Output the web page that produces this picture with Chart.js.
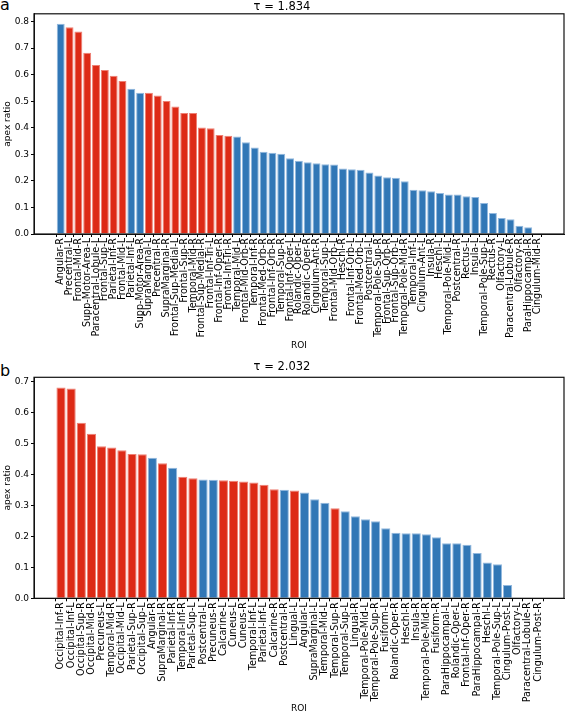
<!DOCTYPE html>
<html>
<head>
<meta charset="utf-8">
<script src="https://cdn.jsdelivr.net/npm/chart.js@4"></script>
<style>
  body { margin: 0; background: #fff; width: 567px; height: 714px; position: relative; overflow: hidden; font-family: "DejaVu Sans", sans-serif; }
  .panel { position: absolute; left: 0; width: 567px; height: 357px; }
  .tag { position: absolute; left: 0; font-size: 16px; line-height: 16px; color: #000; }
</style>
</head>
<body>
<div class="tag" style="top:-3px">a</div>
<div class="tag" style="top:363px">b</div>
<div class="panel" style="top:0"><canvas id="chartA"></canvas></div>
<div class="panel" style="top:357px"><canvas id="chartB"></canvas></div>
<script>
// --- panel a : tau = 1.834 ---------------------------------------------
var topLabels = ["Angular-R", "Precentral-L", "Frontal-Mid-R", "Supp-Motor-Area-L", "Paracentral-Lobule-L",
    "Frontal-Sup-L", "Parietal-Inf-R", "Frontal-Mid-L", "Parietal-Inf-L", "Supp-Motor-Area-R",
    "SupraMarginal-L", "Precentral-R", "SupraMarginal-R", "Frontal-Sup-Medial-L", "Frontal-Sup-R",
    "Temporal-Mid-R", "Frontal-Sup-Medial-R", "Frontal-Inf-Tri-L", "Frontal-Inf-Oper-R", "Frontal-Inf-Tri-R",
    "Temporal-Mid-L", "Frontal-Mid-Orb-R", "Temporal-Inf-R", "Frontal-Med-Orb-R", "Frontal-Inf-Orb-R",
    "Temporal-Sup-R", "Frontal-Inf-Oper-L", "Rolandic-Oper-L", "Rolandic-Oper-R", "Cingulum-Ant-R",
    "Temporal-Sup-L", "Frontal-Mid-Orb-L", "Heschl-R", "Frontal-Inf-Orb-L", "Frontal-Med-Orb-L",
    "Postcentral-L", "Temporal-Pole-Sup-R", "Frontal-Sup-Orb-R", "Frontal-Sup-Orb-L", "Temporal-Pole-Mid-R",
    "Temporal-Inf-L", "Cingulum-Ant-L", "Insula-R", "Heschl-L", "Temporal-Pole-Mid-L",
    "Postcentral-R", "Rectus-L", "Insula-L", "Temporal-Pole-Sup-L", "Rectus-R",
    "Olfactory-L", "Paracentral-Lobule-R", "Olfactory-R", "ParaHippocampal-R", "Cingulum-Mid-R"];
var topValues = [0.792, 0.778, 0.762, 0.682, 0.636, 0.617, 0.596, 0.576, 0.547, 0.532,
    0.532, 0.521, 0.501, 0.480, 0.456, 0.456, 0.401, 0.398, 0.373, 0.370,
    0.367, 0.345, 0.326, 0.310, 0.306, 0.302, 0.285, 0.276, 0.270, 0.266,
    0.263, 0.262, 0.247, 0.244, 0.242, 0.232, 0.220, 0.214, 0.212, 0.199,
    0.167, 0.165, 0.161, 0.154, 0.149, 0.149, 0.142, 0.139, 0.117, 0.079,
    0.060, 0.056, 0.031, 0.025, 0.0];
// 1 = red group, 0 = blue group
var topGroup = [0, 1, 1, 1, 1, 1, 1, 1, 0, 0,
    1, 1, 1, 1, 1, 1, 1, 1, 1, 1,
    0, 0, 0, 0, 0, 0, 0, 0, 0, 0,
    0, 0, 0, 0, 0, 0, 0, 0, 0, 0,
    0, 0, 0, 0, 0, 0, 0, 0, 0, 0,
    0, 0, 0, 0, 0];
var topTitle = "\u03c4 = 1.834";
var topTicks = [0.0, 0.1, 0.2, 0.3, 0.4, 0.5, 0.6, 0.7, 0.8];

// --- panel b : tau = 2.032 ---------------------------------------------
var bottomLabels = ["Occipital-Inf-R", "Occipital-Inf-L", "Occipital-Sup-R", "Occipital-Mid-R", "Precuneus-L",
    "Temporal-Mid-R", "Occipital-Mid-L", "Parietal-Sup-R", "Occipital-Sup-L", "Angular-R",
    "SupraMarginal-R", "Parietal-Inf-R", "Temporal-Inf-R", "Parietal-Sup-L", "Postcentral-L",
    "Precuneus-R", "Calcarine-L", "Cuneus-L", "Cuneus-R", "Temporal-Inf-L",
    "Parietal-Inf-L", "Calcarine-R", "Postcentral-R", "Lingual-L", "Angular-L",
    "SupraMarginal-L", "Temporal-Mid-L", "Temporal-Sup-R", "Temporal-Sup-L", "Lingual-R",
    "Temporal-Pole-Mid-L", "Temporal-Pole-Sup-R", "Fusiform-L", "Rolandic-Oper-R", "Heschl-R",
    "Insula-R", "Temporal-Pole-Mid-R", "Fusiform-R", "ParaHippocampal-L", "Rolandic-Oper-L",
    "Frontal-Inf-Oper-R", "ParaHippocampal-R", "Heschl-L", "Temporal-Pole-Sup-L", "Cingulum-Post-L",
    "Olfactory-L", "Paracentral-Lobule-R", "Cingulum-Post-R"];
var bottomValues = [0.681, 0.678, 0.567, 0.532, 0.491, 0.487, 0.478, 0.466, 0.465, 0.454,
    0.436, 0.422, 0.393, 0.388, 0.384, 0.383, 0.381, 0.380, 0.377, 0.374,
    0.367, 0.352, 0.351, 0.348, 0.342, 0.320, 0.309, 0.291, 0.281, 0.265,
    0.255, 0.249, 0.226, 0.212, 0.210, 0.210, 0.207, 0.197, 0.178, 0.178,
    0.173, 0.146, 0.116, 0.110, 0.043, 0.0, 0.0, 0.0];
var bottomGroup = [1, 1, 1, 1, 1, 1, 1, 1, 1, 0,
    1, 0, 1, 1, 0, 0, 1, 1, 1, 1,
    1, 1, 0, 1, 0, 0, 0, 1, 0, 0,
    0, 0, 0, 0, 0, 0, 0, 0, 0, 0,
    0, 0, 0, 0, 0, 0, 0, 0];
var bottomTitle = "\u03c4 = 2.032";
var bottomTicks = [0.0, 0.1, 0.2, 0.3, 0.4, 0.5, 0.6, 0.7];

var RED = "rgb(221,42,22)", RED_EDGE = "rgb(238,128,116)";
var BLUE = "rgb(49,119,182)", BLUE_EDGE = "rgb(146,184,222)";
var FONT = "'DejaVu Sans', sans-serif";

Chart.defaults.color = "#000";
Chart.defaults.font.family = FONT;

// draws the full matplotlib-like box around the plot area
var frameBox = {
    id: "frameBox",
    afterDraw: function (chart) {
        var a = chart.chartArea, ctx = chart.ctx;
        ctx.save();
        ctx.strokeStyle = "#111";
        ctx.lineWidth = 1.2;
        ctx.strokeRect(a.left, a.top, a.right - a.left, a.bottom - a.top);
        ctx.restore();
    }
};

function renderPanel(canvasId, labels, values, group, title, yTicks, geo) {
    var points = values.map(function (v, i) { return {x: i, y: v}; });
    var ctx = document.getElementById(canvasId).getContext("2d");
    return new Chart(ctx, {
        type: "bar",
        data: {
            datasets: [{
                data: points,
                backgroundColor: group.map(function (g) { return g ? RED : BLUE; }),
                borderColor: group.map(function (g) { return g ? RED_EDGE : BLUE_EDGE; }),
                borderWidth: 1,
                barPercentage: 0.9,
                categoryPercentage: 1.0
            }]
        },
        options: {
            responsive: true,
            maintainAspectRatio: false,
            animation: false,
            layout: {padding: {left: 0, right: 3, top: geo.padTop, bottom: 0}},
            plugins: {
                legend: {display: false},
                tooltip: {enabled: false},
                title: {
                    display: true,
                    text: title,
                    font: {size: 11.5, weight: "normal", family: FONT},
                    padding: {top: 0, bottom: geo.titleGap}
                }
            },
            scales: {
                x: {
                    type: "linear",
                    min: geo.xMin,
                    max: geo.xMax,
                    offset: false,
                    afterBuildTicks: function (axis) {
                        axis.ticks = labels.map(function (_, i) { return {value: i}; });
                    },
                    afterFit: function (axis) { axis.height = geo.xHeight; },
                    ticks: {
                        autoSkip: false,
                        minRotation: 90,
                        maxRotation: 90,
                        padding: 1,
                        font: {size: 9.6},
                        callback: function (v) { return labels[v] !== undefined ? labels[v] : ""; }
                    },
                    grid: {display: true, drawOnChartArea: false, drawTicks: true, tickLength: 3, color: "#000"},
                    border: {display: true, color: "#111"},
                    title: {display: true, text: "ROI", font: {size: 9}, padding: {top: 0, bottom: geo.roiPad}}
                },
                y: {
                    min: 0,
                    max: geo.yMax,
                    afterBuildTicks: function (axis) {
                        axis.ticks = yTicks.map(function (t) { return {value: t}; });
                    },
                    afterFit: function (axis) { axis.width = 34; },
                    ticks: {
                        padding: 2,
                        font: {size: 9},
                        callback: function (v) { return v.toFixed(1); }
                    },
                    grid: {display: true, drawOnChartArea: false, drawTicks: true, tickLength: 3, color: "#000"},
                    border: {display: true, color: "#111"},
                    title: {display: true, text: "apex ratio", font: {size: 9}, padding: {top: 2, bottom: 0}}
                }
            }
        },
        plugins: [frameBox]
    });
}

renderPanel("chartA", topLabels, topValues, topGroup, topTitle, topTicks,
    {padTop: 0, titleGap: 0, xMin: -3.03, xMax: 57.06, yMax: 0.829, xHeight: 123, roiPad: 6});
renderPanel("chartB", bottomLabels, bottomValues, bottomGroup, bottomTitle, bottomTicks,
    {padTop: 3, titleGap: 3.5, xMin: -2.66, xMax: 49.56, yMax: 0.714, xHeight: 115.7, roiPad: 0});
</script>
</body>
</html>
